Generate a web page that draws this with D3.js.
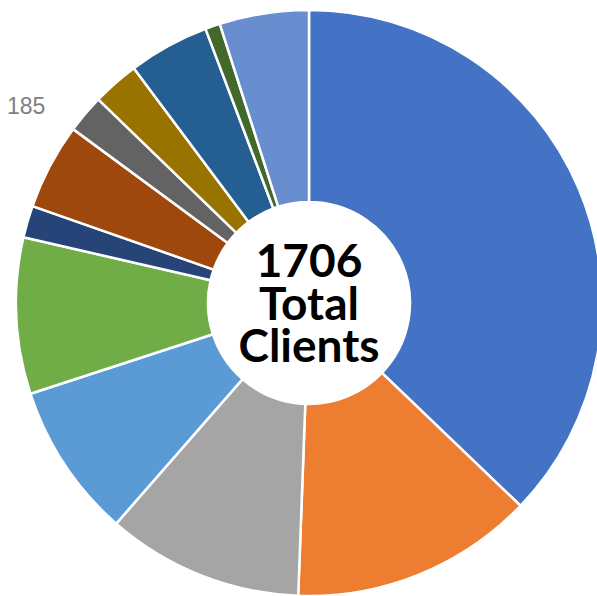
<!DOCTYPE html>
<html>
<head>
<meta charset="utf-8">
<script src="https://cdn.jsdelivr.net/npm/d3@7/dist/d3.min.js"></script>
<style>
  body { margin: 0; background: #fff; }
  svg { display: block; }
</style>
</head>
<body>
<div id="chart-area"></div>
<script>
const width = 597;
const height = 596;

// slice values, clockwise from 12 o'clock
const categories = ["A","B","C","D","E","F","G","H","I","J","K","L"];
const values = [634, 229, 185, 146, 147, 30, 81, 36, 44, 76, 14, 84];
const colors = ["#4472C4","#ED7D31","#A5A5A5","#5B9BD5","#70AD47","#264478",
                "#9E480E","#636363","#997300","#255E91","#43682B","#698ED0"];
const totalLabel = ["1706", "Total", "Clients"];
const sideLabel = "185";

const cx = 309, cy = 303;
const outerR = 293, innerR = 101;

const svg = d3.select("#chart-area")
  .append("svg")
  .attr("width", width)
  .attr("height", height);

const g = svg.append("g")
  .attr("transform", `translate(${cx}, ${cy})`);

const pie = d3.pie().sort(null).value(d => d.value);
const arc = d3.arc().innerRadius(innerR).outerRadius(outerR);

const data = categories.map((c, i) => ({ name: c, value: values[i], color: colors[i] }));

g.selectAll("path")
  .data(pie(data))
  .enter()
  .append("path")
  .attr("d", arc)
  .attr("fill", d => d.data.color)
  .attr("stroke", "#fff")
  .attr("stroke-width", 2.5)
  .attr("stroke-linejoin", "round");

// center text
g.selectAll("text.total")
  .data(totalLabel)
  .enter()
  .append("text")
  .attr("class", "total")
  .attr("text-anchor", "middle")
  .attr("x", 0)
  .attr("y", (d, i) => -26 + i * 42.5)
  .attr("font-family", "Lato, 'Noto Sans', sans-serif")
  .attr("font-weight", 700)
  .attr("font-size", "46px")
  .attr("fill", "#000")
  .text(d => d);

svg.append("text")
  .attr("x", 7)
  .attr("y", 114)
  .attr("font-family", "'Liberation Sans', Arial, sans-serif")
  .attr("font-size", "23px")
  .attr("fill", "#7f7f7f")
  .text(sideLabel);
</script>
</body>
</html>
